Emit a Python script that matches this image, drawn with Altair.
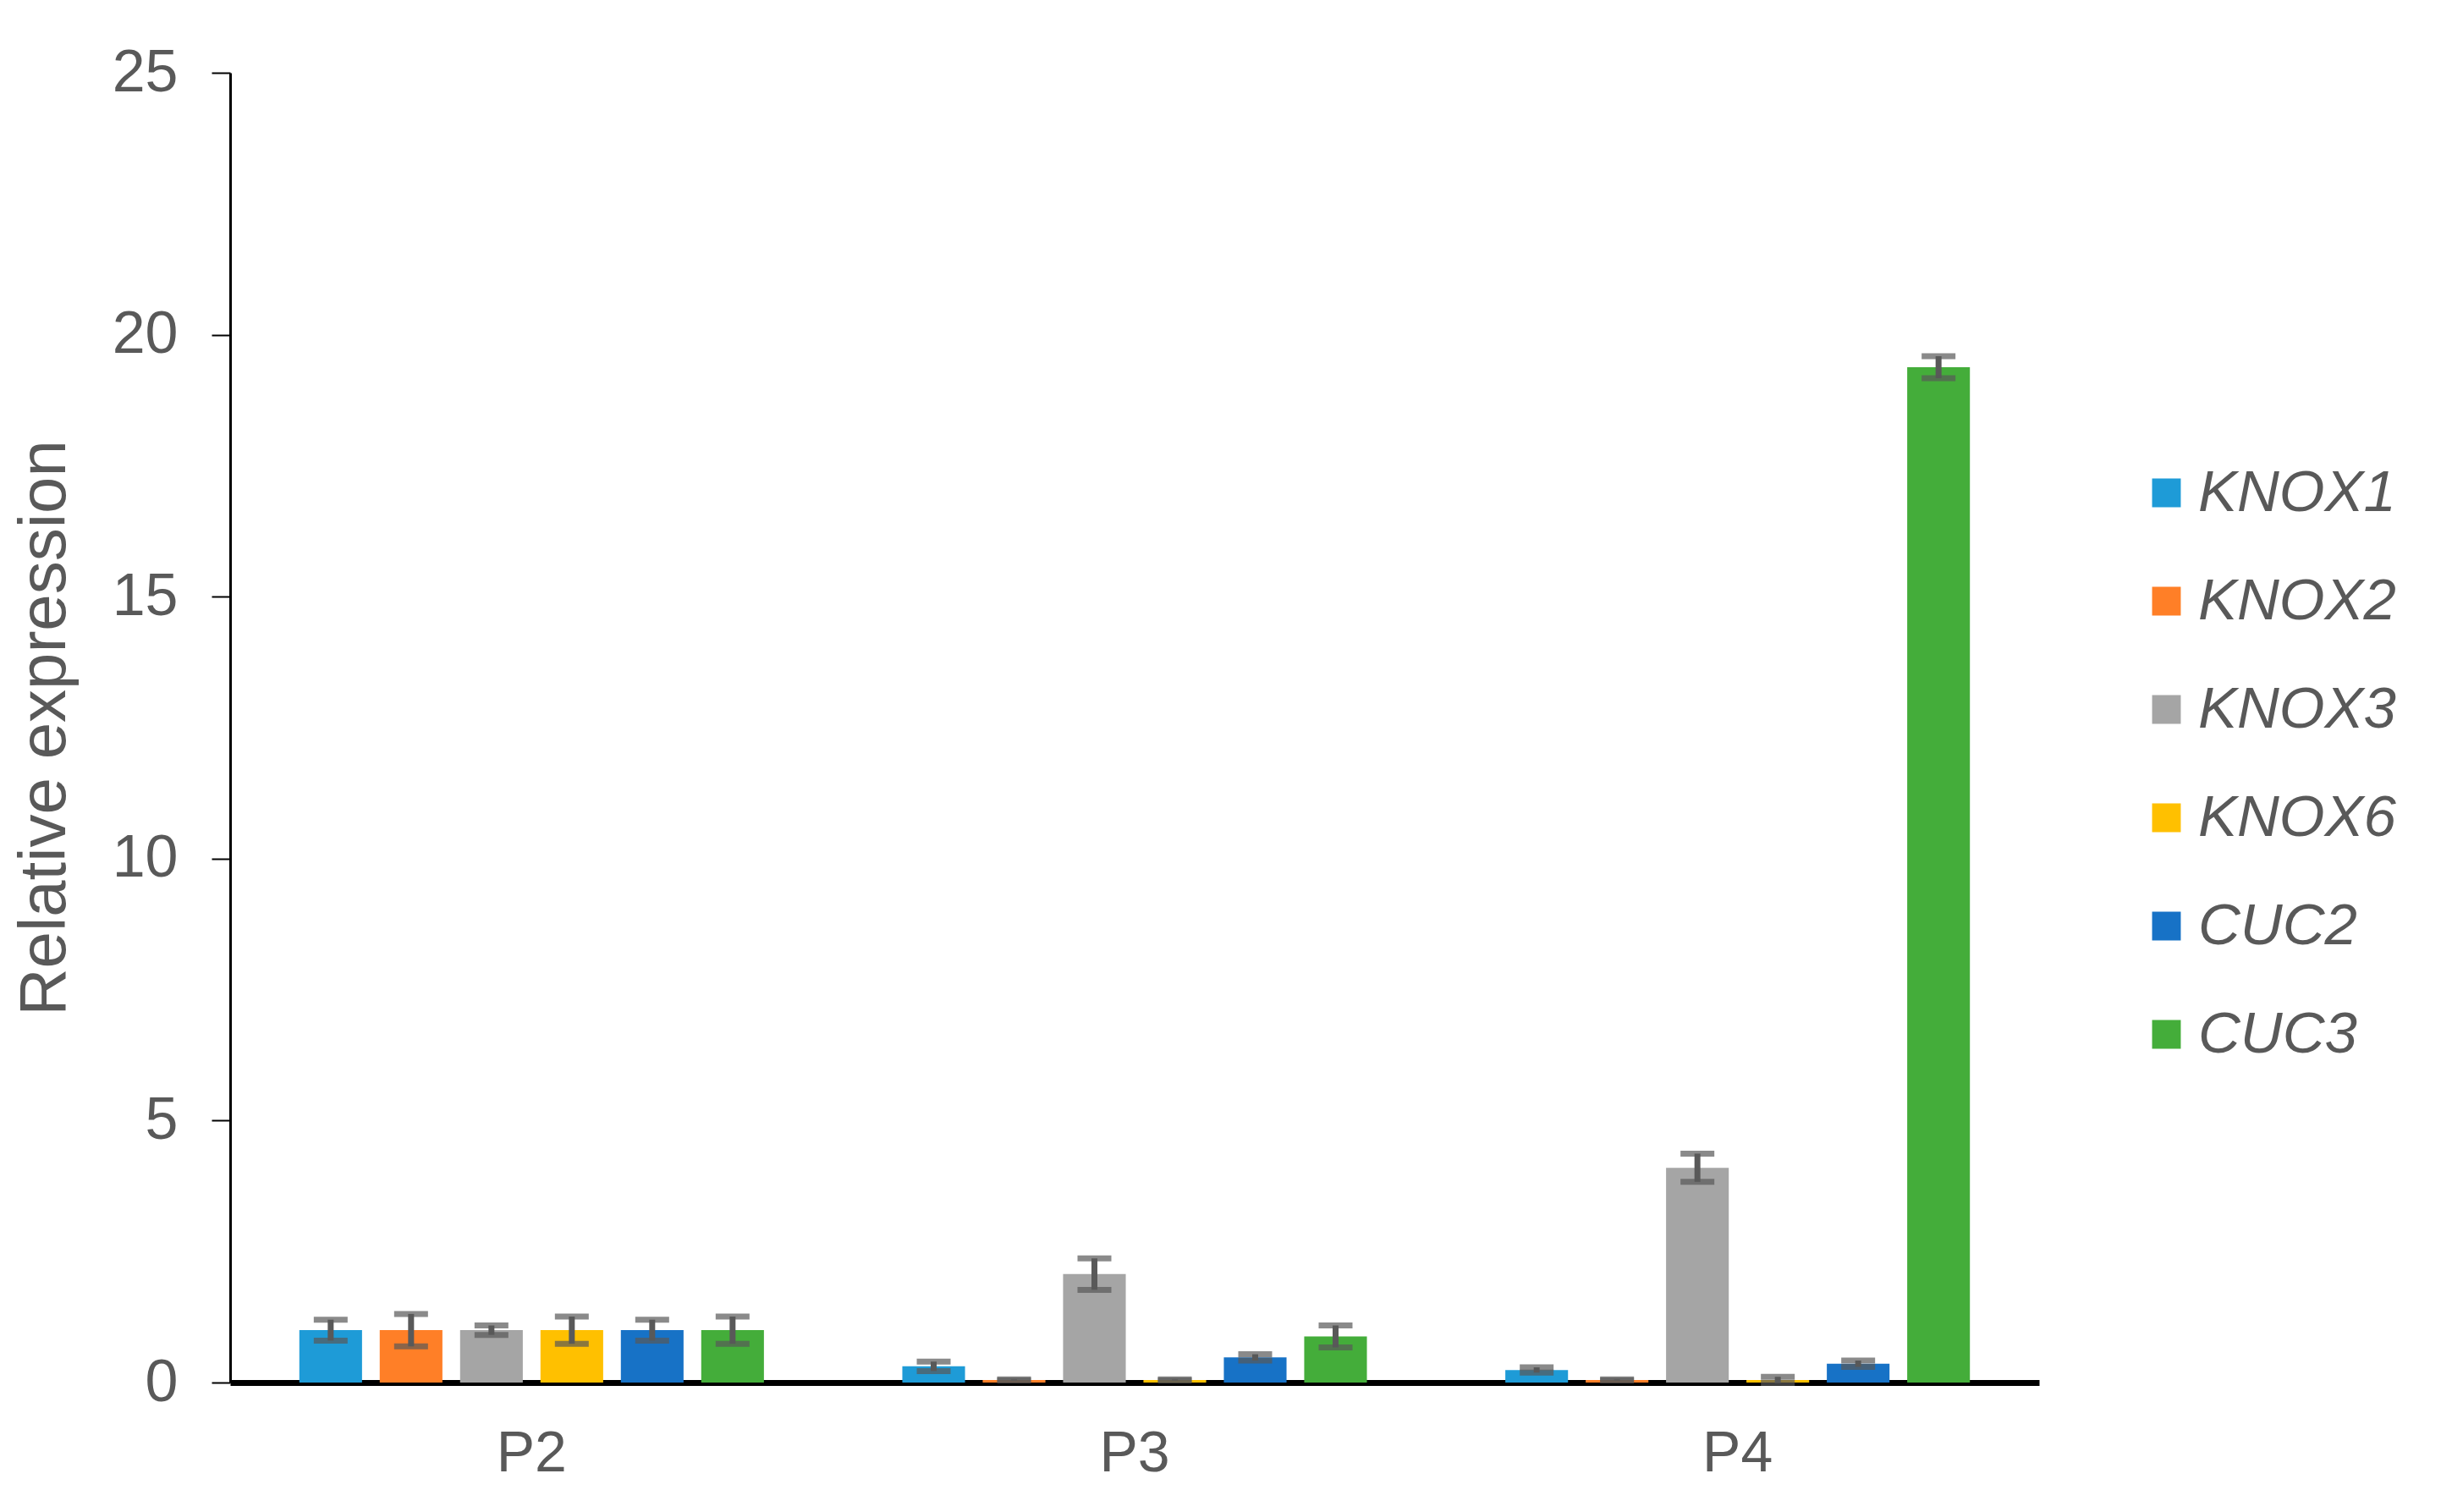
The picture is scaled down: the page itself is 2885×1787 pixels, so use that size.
import altair as alt
import pandas as pd

stages = ["P2", "P3", "P4"]
genes = ["KNOX1", "KNOX2", "KNOX3", "KNOX6", "CUC2", "CUC3"]
colors = ["#1E9BD7", "#FF7F27", "#A5A5A5", "#FFC000", "#1772C6", "#44AD3A"]

p2_values = [1.0, 1.0, 1.0, 1.0, 1.0, 1.0]
p2_errors = [0.20, 0.31, 0.09, 0.26, 0.20, 0.26]
p3_values = [0.31, 0.05, 2.07, 0.05, 0.48, 0.88]
p3_errors = [0.09, 0.01, 0.30, 0.01, 0.06, 0.21]
p4_values = [0.24, 0.05, 4.10, 0.05, 0.36, 19.38]
p4_errors = [0.05, 0.01, 0.27, 0.06, 0.06, 0.21]

rows = []
for stage, vals, errs in zip(stages, [p2_values, p3_values, p4_values],
                             [p2_errors, p3_errors, p4_errors]):
    for g, v, e in zip(genes, vals, errs):
        rows.append({"stage": stage, "gene": g, "value": v, "err": e,
                     "lo": v - e, "hi": v + e})
df = pd.DataFrame(rows)

FONT = "Liberation Sans"
GREY = "#595959"

x_enc = alt.X("stage:N", sort=stages,
              scale=alt.Scale(paddingInner=0, paddingOuter=0),
              axis=alt.Axis(title=None, labelAngle=0, ticks=False,
                            domainColor="black", domainWidth=7,
                            labelFontSize=68, labelColor=GREY, labelFont=FONT,
                            labelPadding=50))
xo_enc = alt.XOffset("gene:N", sort=genes,
                     scale=alt.Scale(paddingInner=0.22, paddingOuter=0.861))
y_scale = alt.Scale(domain=[0, 25], nice=False)

base = alt.Chart(df)

bars = base.mark_bar().encode(
    x=x_enc,
    xOffset=xo_enc,
    y=alt.Y("value:Q", scale=y_scale,
            axis=alt.Axis(values=[0, 5, 10, 15, 20, 25], format="d", grid=False,
                          domainColor="black", domainWidth=3,
                          tickColor="black", tickWidth=2, tickSize=22,
                          labelFontSize=70, labelColor=GREY, labelFont=FONT,
                          labelPadding=40,
                          title="Relative expression", titleFontSize=78,
                          titleColor=GREY, titleFont=FONT,
                          titleFontWeight="normal", titlePadding=40)),
    color=alt.Color("gene:N", sort=genes,
                    scale=alt.Scale(domain=genes, range=colors),
                    legend=alt.Legend(title=None, orient="none",
                                      legendX=2254, legendY=462,
                                      symbolType="square", symbolSize=1150,
                                      symbolStrokeWidth=0,
                                      labelFontSize=69, labelFontStyle="italic",
                                      labelFont=FONT, labelColor=GREY,
                                      labelOffset=3, rowPadding=58,
                                      labelLimit=500, padding=0)),
)

stems = base.mark_rule(color=GREY, strokeWidth=7).encode(
    x=x_enc, xOffset=xo_enc,
    y=alt.Y("lo:Q", scale=y_scale), y2="hi:Q")

caps_hi = base.mark_tick(color=GREY, thickness=7, size=40, orient="horizontal").encode(
    x=x_enc, xOffset=xo_enc, y=alt.Y("hi:Q", scale=y_scale))
caps_lo = base.mark_tick(color=GREY, thickness=7, size=40, orient="horizontal").encode(
    x=x_enc, xOffset=xo_enc, y=alt.Y("lo:Q", scale=y_scale))

chart = alt.layer(bars, stems, caps_hi, caps_lo).properties(
    width=2138, height=1548,
    autosize=alt.AutoSizeParams(type="none"),
    padding={"left": 264, "top": 78, "right": 460, "bottom": 130},
    background="white",
).configure_view(stroke=None)

chart.save("out.html", embed_options={"renderer": "svg", "actions": False})
